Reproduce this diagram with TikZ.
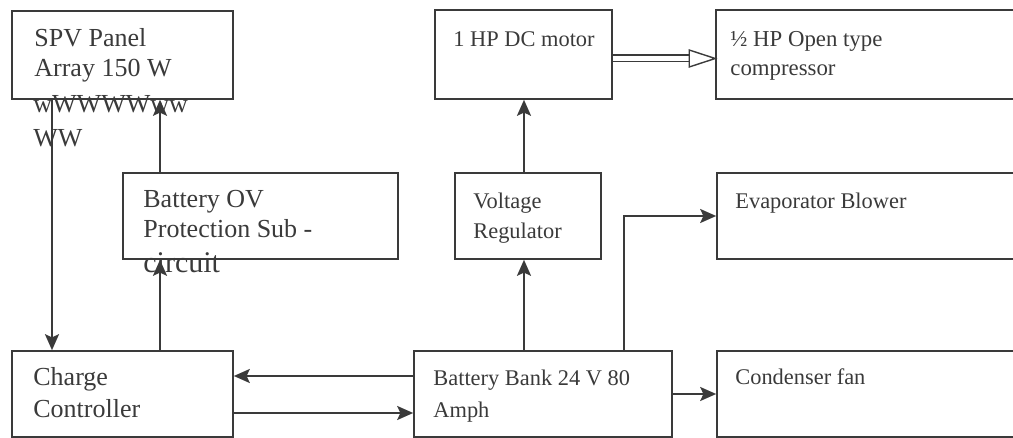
\documentclass[tikz,border=0pt]{standalone}
\usepackage{fontspec}
\setmainfont{Liberation Serif}
\usetikzlibrary{arrows.meta}
\definecolor{ink}{HTML}{3A3A3A}

\tikzset{
  blk/.style={draw=ink, line width=0.8pt, inner sep=0pt},
  lbl/.style={anchor=base west, inner sep=0pt, text=ink, align=left},
  arr/.style={draw=ink, line width=1pt, -{Stealth[length=8pt,width=7pt,inset=1.6pt]}},
}

\begin{document}
\begin{tikzpicture}[x=0.5pt, y=-0.5pt]
  \clip (0,0) rectangle (1013,438);
  % boxes
  \node[blk, minimum width=110.5pt, minimum height=44pt] (spv) at (122.5,55) {};
  \node[blk, minimum width=137.5pt, minimum height=43pt] (ov) at (260.5,216) {};
  \node[blk, minimum width=110.5pt, minimum height=43pt] (cc) at (122.5,394) {};
  \node[blk, minimum width=129pt, minimum height=43pt] (bb) at (543,394) {};
  \node[blk, minimum width=73pt, minimum height=43pt] (vr) at (528,216) {};
  \node[blk, minimum width=88.5pt, minimum height=44.5pt] (mot) at (523.5,54.5) {};
  \node[blk, minimum width=157pt, minimum height=44.5pt] (comp) at (873,54.5) {};
  \node[blk, minimum width=156.5pt, minimum height=43pt] (evap) at (873.5,216) {};
  \node[blk, minimum width=156.5pt, minimum height=43pt] (cond) at (873.5,394) {};

  % texts (placed at the baseline of their last line)
  \node[lbl, font=\fontsize{13}{15}\selectfont] (spvt) at (34,77) {SPV Panel\\Array 150 W};
  \node[lbl, font=\fontsize{13}{17}\selectfont] (spvx) at (33,147) {wWWWWww\\WW};
  \node[lbl, font=\fontsize{13}{15}\selectfont] (ovt) at (143,238) {Battery OV\\Protection Sub -};
  \node[lbl, font=\fontsize{15}{17}\selectfont] (ovx) at (143,273) {circuit};
  \node[lbl, font=\fontsize{13}{16}\selectfont] (cct) at (33,417) {Charge\\Controller};
  \node[lbl, font=\fontsize{11.2}{16}\selectfont] (bbt) at (433,417) {Battery Bank 24 V 80\\Amph};
  \node[lbl, font=\fontsize{11.2}{15}\selectfont] (vrt) at (473,239) {Voltage\\Regulator};
  \node[lbl, font=\fontsize{11.2}{15}\selectfont] (mott) at (453,47) {1 HP DC motor};
  \node[lbl, font=\fontsize{11.4}{14.5}\selectfont] (compt) at (730,76) {½ HP Open type\\compressor};
  \node[lbl, font=\fontsize{11.2}{15}\selectfont] (evapt) at (735,209) {Evaporator Blower};
  \node[lbl, font=\fontsize{11.2}{15}\selectfont] (condt) at (735,385) {Condenser fan};

  % connector lanes
  \coordinate (xa) at (52,0);
  \coordinate (xb) at (160,0);
  \coordinate (xc) at (524,0);
  \coordinate (xd) at (624,0);
  \coordinate (ya) at (0,376);
  \coordinate (yb) at (0,413);
  \coordinate (yc) at (0,58.5);

  \draw[arr] (spv.south -| xa) -- (cc.north -| xa);
  \draw[arr] (cc.north -| xb) -- (ov.south -| xb);
  \draw[arr] (ov.north -| xb) -- (spv.south -| xb);
  \draw[arr] (bb.west |- ya) -- (cc.east |- ya);
  \draw[arr] (cc.east |- yb) -- (bb.west |- yb);
  \draw[arr] (bb.north -| xc) -- (vr.south -| xc);
  \draw[arr] (vr.north -| xc) -- (mot.south -| xc);
  \draw[arr] (bb.north -| xd) |- (evap.west);
  \draw[arr] (bb.east) -- (cond.west);

  % hollow drive arrow
  \draw[ink, line width=0.7pt, double=white, double distance=2.6pt] (mot.east |- yc) -- ([xshift=-12pt]comp.west |- yc);
  \draw[ink, line width=0.7pt, fill=white] (comp.west |- yc) -- ++(-26,-8.5) -- ++(0,17) -- cycle;
\end{tikzpicture}
\end{document}
